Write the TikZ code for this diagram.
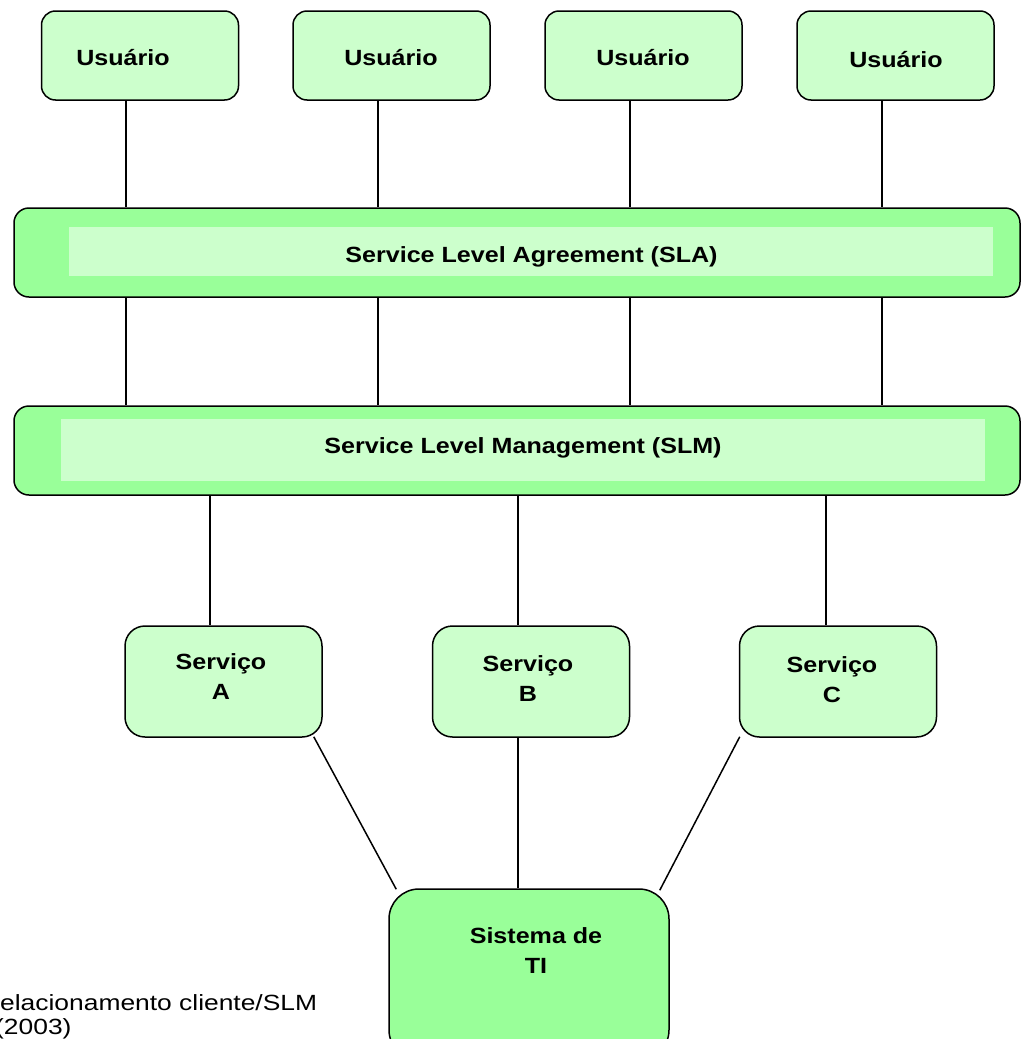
\documentclass[tikz,border=0pt]{standalone}
\usepackage{fontspec}
\setmainfont[FakeStretch=1.14]{Liberation Sans}
\newfontfamily\notefont[FakeStretch=1.2]{Liberation Sans}
\usetikzlibrary{calc}

\definecolor{paleg}{HTML}{CCFFCC}
\definecolor{brightg}{HTML}{99FF99}

\begin{document}
\begin{tikzpicture}[x=1pt,y=-1pt,
  lbl/.style={font=\bfseries\fontsize{22}{30}\selectfont, inner sep=0pt, align=center},
  note/.style={font=\notefont\fontsize{22}{26}\selectfont, inner sep=0pt, anchor=base west},
  userbox/.style={draw=black, line width=1.5pt, fill=paleg, rounded corners=14pt,
    minimum width=197pt, minimum height=89pt, inner sep=0pt},
  bar/.style={draw=black, line width=1.5pt, fill=brightg, rounded corners=15pt,
    minimum width=1006pt, minimum height=89pt, inner sep=0pt},
  band/.style={fill=paleg, minimum width=924pt, inner sep=0pt},
  servbox/.style={draw=black, line width=1.5pt, fill=paleg, rounded corners=20pt,
    minimum width=197pt, minimum height=111pt, inner sep=0pt},
  sysbox/.style={draw=black, line width=1.5pt, fill=brightg, rounded corners=30pt,
    minimum width=280pt, minimum height=171pt, inner sep=0pt},
  conn/.style={draw=black, line width=1.5pt}
]
\clip (0,0) rectangle (1022,1039);
\fill[white] (0,0) rectangle (1022,1039);

% users
\node[userbox] (u1) at (140,55.5) {};
\node[userbox] (u2) at (391.5,55.5) {};
\node[userbox] (u3) at (643.5,55.5) {};
\node[userbox] (u4) at (895.5,55.5) {};
\node[lbl, anchor=base] (tu1) at (123,65) {Usuário};
\node[lbl, anchor=base] (tu2) at (391,65) {Usuário};
\node[lbl, anchor=base] (tu3) at (643,65) {Usuário};
\node[lbl, anchor=base] (tu4) at (896,67) {Usuário};

% agreement and management bars
\node[bar] (sla) at (517,252.5) {};
\node[band, minimum height=49pt] (slaband) at (531,251.5) {};
\node[lbl, anchor=base] (tsla) at (531.5,262) {Service Level Agreement (SLA)};

\node[bar] (slm) at (517,450.5) {};
\node[band, minimum height=62pt] (slmband) at (523,450) {};
\node[lbl, anchor=base] (tslm) at (523,453) {Service Level Management (SLM)};

% services
\node[servbox] (sA) at (223.5,681.5) {};
\node[servbox] (sB) at (531,681.5) {};
\node[servbox] (sC) at (838,681.5) {};
\node[lbl, anchor=north] (tsA) at (221,653.7) {Serviço\\A};
\node[lbl, anchor=north] (tsB) at (528,655.7) {Serviço\\B};
\node[lbl, anchor=north] (tsC) at (832,656.7) {Serviço\\C};

% IT system
\node[sysbox] (sys) at (529,974.5) {};
\node[lbl, anchor=north] (tsys) at (536,927.7) {Sistema de\\TI};

% connectors: users to SLA, SLA to SLM
\foreach \u/\dx in {u1/-14,u2/-13.5,u3/-13.5,u4/-13.5}{
  \draw[conn] ([xshift=\dx pt]\u.south) -- ([xshift=\dx pt]\u.south |- sla.north);
  \draw[conn] ([xshift=\dx pt]\u.south |- sla.south) -- ([xshift=\dx pt]\u.south |- slm.north);
}
% SLM to services
\foreach \s/\dx in {sA/-13.5,sB/-13,sC/-12}{
  \draw[conn] ([xshift=\dx pt]\s.north |- slm.south) -- ([xshift=\dx pt]\s.north);
}
% services to IT system
\draw[conn] ([shift={(-9,-1)}]sA.south east) -- ([shift={(8,1)}]sys.north west);
\draw[conn] ([xshift=-13pt]sB.south) -- ([xshift=-13pt]sB.south |- sys.north);
\draw[conn] ([shift={(1,-1)}]sC.south west) -- ([shift={(-10,2)}]sys.north east);

% caption, running off the left and bottom edges
\node[note] (cap1) at (0,1010) {elacionamento cliente/SLM};
\node[note] (cap2) at (-5,1034) {(2003)};
\end{tikzpicture}
\end{document}
